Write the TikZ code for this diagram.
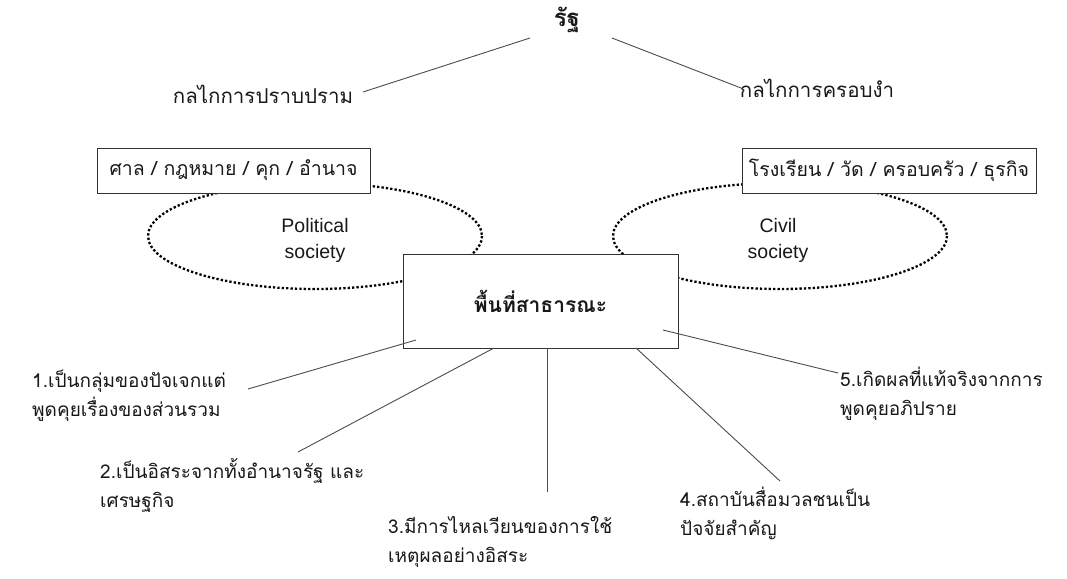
\documentclass[tikz,border=0pt]{standalone}
\usepackage{fontspec}
\setmainfont{Liberation Sans}
\newfontfamily\thaifont[Script=Thai]{Loma}
\usetikzlibrary{shapes.geometric}
\definecolor{lnc}{gray}{0.3}
\definecolor{txc}{gray}{0.1}
\tikzset{
  dotring/.style={draw=black, line width=2.3pt, dash pattern=on 2.3pt off 2.1pt},
  topbox/.style={draw=black!80, line width=0.8pt, fill=white, minimum height=45pt, inner sep=0pt, font=\thaifont\fontsize{19.5}{22}\selectfont, text=txc},
  centerbox/.style={draw=black!80, line width=0.8pt, fill=white, minimum width=275pt, minimum height=94pt, inner sep=0pt, font=\thaifont\bfseries\fontsize{21}{24}\selectfont, text=txc},
  lbl/.style={anchor=west, align=left, inner sep=0pt, font=\thaifont\fontsize{19}{29}\selectfont, text=txc},
  toplbl/.style={inner sep=0pt, font=\thaifont\fontsize{20.5}{22}\selectfont, text=txc},
  soc/.style={align=center, inner sep=0pt, font=\fontsize{19.5}{26}\selectfont, text=txc},
  conn/.style={draw=lnc, line width=0.9pt}
}
\begin{document}
\begin{tikzpicture}[x=1pt,y=-1pt]
\useasboundingbox[fill=white] (0,0) rectangle (1067,578);

% ellipses
\draw[dotring] (315,236) ellipse [x radius=167, y radius=53];
\draw[dotring] (780,236) ellipse [x radius=167, y radius=53];
\node[soc] (pol) at (315,240) {Political\\society};
\node[soc] (civ) at (778,240) {Civil\\society};

% top
\node[toplbl, font=\thaifont\bfseries\fontsize{24}{26}\selectfont] (state) at (567,20) {รัฐ};
\node[toplbl] (rep) at (263,94) {กลไกการปราบปราม};
\node[toplbl] (heg) at (817,88) {กลไกการครอบงำ};
\coordinate (sL) at (530,38);
\coordinate (sR) at (612,38);
\coordinate (rL) at (363,92);
\coordinate (hR) at (741,88);
\draw[conn] (sL) -- (rL);
\draw[conn] (sR) -- (hR);

% boxes
\node[topbox, minimum width=273pt] (lbox) at (233.5,170.5) {ศาล / กฎหมาย / คุก / อำนาจ};
\node[topbox, minimum width=294pt] (rbox) at (889,170.5) {โรงเรียน / วัด / ครอบครัว / ธุรกิจ};
\node[centerbox] (pub) at (540.5,301) {พื้นที่สาธารณะ};

% labels
\node[lbl] (l1) at (32,396) {1.เป็นกลุ่มของปัจเจกแต่\\พูดคุยเรื่องของส่วนรวม};
\node[lbl] (l2) at (100,485) {2.เป็นอิสระจากทั้งอำนาจรัฐ และ\\เศรษฐกิจ};
\node[lbl] (l3) at (388,542) {3.มีการไหลเวียนของการใช้\\เหตุผลอย่างอิสระ};
\node[lbl] (l4) at (680,513) {4.สถาบันสื่อมวลชนเป็น\\ปัจจัยสำคัญ};
\node[lbl] (l5) at (840,394) {5.เกิดผลที่แท้จริงจากการ\\พูดคุยอภิปราย};

% connectors
\coordinate (p1) at (416,340);
\coordinate (e1) at (248,389);
\coordinate (p2) at (494,348);
\coordinate (e2) at (298,452);
\coordinate (p3) at (547,348);
\coordinate (e3) at (547,492);
\coordinate (p4) at (636,348);
\coordinate (e4) at (780,481);
\coordinate (p5) at (663,330);
\coordinate (e5) at (838,373);
\draw[conn] (p1) -- (e1);
\draw[conn] (p2) -- (e2);
\draw[conn] (p3) -- (e3);
\draw[conn] (p4) -- (e4);
\draw[conn] (p5) -- (e5);
\end{tikzpicture}
\end{document}
